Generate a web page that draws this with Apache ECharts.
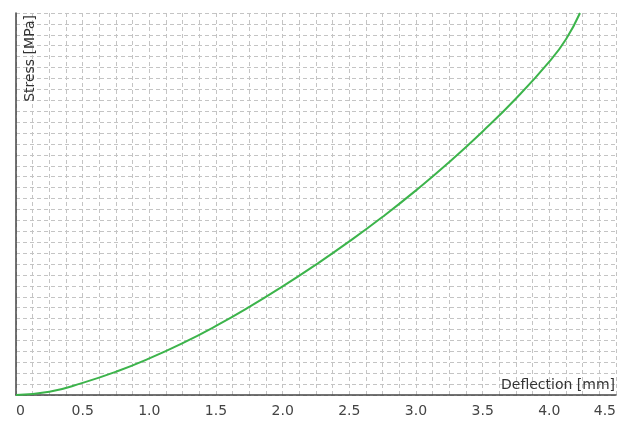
<!DOCTYPE html>
<html>
<head>
<meta charset="utf-8">
<script src="https://cdn.jsdelivr.net/npm/echarts@6/dist/echarts.min.js"></script>
<style>
  html, body { margin: 0; padding: 0; background: #fff; }
  #chart { width: 626px; height: 435px; }
</style>
</head>
<body>
<div id="chart"></div>
<script>
// deflection [mm] and stress values
const deflection = [0, 0.25, 0.5, 0.75, 1.0, 1.25, 1.5, 1.75, 2.0, 2.25, 2.5, 2.75, 3.0, 3.25, 3.5, 3.75, 4.0, 4.125, 4.23];
const stress = [0, 0.29, 1.11, 2.13, 3.35, 4.75, 6.33, 8.07, 9.95, 11.95, 14.07, 16.33, 18.75, 21.35, 24.15, 27.17, 30.55, 32.6, 35];
const xTicks = [0, 0.5, 1.0, 1.5, 2.0, 2.5, 3.0, 3.5, 4.0, 4.5];

const myChart = echarts.init(document.getElementById('chart'));

const gridLine = { show: true, lineStyle: { color: '#c4c4c4', type: [4, 3], width: 1 } };

const option = {
    animation: false,
    textStyle: { fontFamily: 'DejaVu Sans' },
    grid: { left: 16, right: 10, top: 13, bottom: 40, containLabel: false },
    xAxis: {
        type: 'value',
        min: xTicks[0],
        max: xTicks[xTicks.length - 1],
        interval: 0.5,
        name: 'Deflection [mm]',
        nameLocation: 'end',
        nameGap: -1,
        nameTextStyle: { align: 'right', verticalAlign: 'bottom', color: '#333', fontSize: 14, padding: [0, 0, 3, 0] },
        axisLine: { show: true, lineStyle: { color: '#444', width: 1.5 } },
        axisTick: { show: false },
        axisLabel: {
            color: '#444',
            fontSize: 14,
            margin: 9,
            hideOverlap: false,
            alignMinLabel: 'left',
            alignMaxLabel: 'right',
            formatter: v => v === 0 ? '0' : v.toFixed(1)
        },
        splitLine: gridLine,
        minorTick: { show: false, splitNumber: 4 },
        minorSplitLine: gridLine
    },
    yAxis: {
        type: 'value',
        min: 0,
        max: 35,
        interval: 1,
        name: 'Stress [MPa]',
        nameLocation: 'end',
        nameRotate: 90,
        nameGap: -2,
        nameTextStyle: { align: 'right', verticalAlign: 'top', color: '#333', fontSize: 14, padding: [7, 0, 0, 0] },
        axisLine: { show: true, lineStyle: { color: '#444', width: 1.5 } },
        axisTick: { show: false },
        axisLabel: { show: false },
        splitLine: gridLine
    },
    series: [
        {
            type: 'line',
            data: deflection.map((x, i) => [x, stress[i]]),
            smooth: true,
            showSymbol: false,
            lineStyle: { color: '#3cb44b', width: 2 }
        }
    ]
};

myChart.setOption(option);
window.addEventListener('resize', () => myChart.resize());
</script>
</body>
</html>
